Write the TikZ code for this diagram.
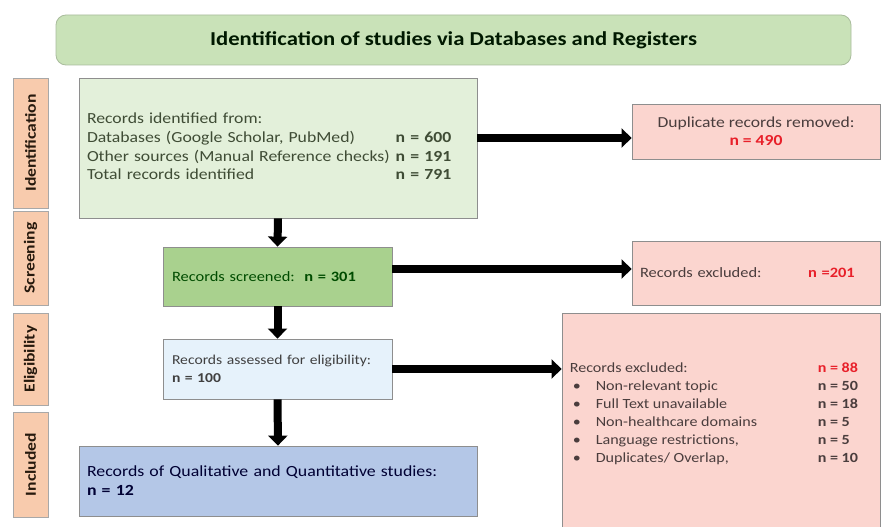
\documentclass[tikz,border=0pt]{standalone}
\usepackage{fontspec}
\setmainfont{Carlito}[FakeStretch=1.15]
\usepackage{xcolor}
\usetikzlibrary{positioning,arrows.meta}

\definecolor{titlefill}{HTML}{C9E2B8}
\definecolor{titleline}{HTML}{A9BC9C}
\definecolor{phasefill}{HTML}{F8CBAD}
\definecolor{phaseline}{HTML}{A8A8A8}
\definecolor{idfill}{HTML}{E3F0DA}
\definecolor{screenfill}{HTML}{A9D18E}
\definecolor{eligfill}{HTML}{E6F2FB}
\definecolor{inclfill}{HTML}{B4C7E7}
\definecolor{exclfill}{HTML}{FBD5CF}
\definecolor{boxline}{HTML}{8E8E8E}
\definecolor{nred}{HTML}{E8202A}
\definecolor{idtext}{HTML}{3F4C35}
\definecolor{excltext}{HTML}{4A3D3D}

\begin{document}
\begin{tikzpicture}[x=1pt, y=-1pt,
    phase/.style={draw=phaseline, fill=phasefill, line width=0.8pt, rotate=90,
        minimum height=35pt, inner sep=0pt, text=black!80!brown,
        font=\bfseries\fontsize{15.3}{18}\selectfont},
    stage/.style={draw=boxline, line width=0.8pt, inner ysep=0pt, align=left},
    outbox/.style={stage, fill=exclfill, text=excltext},
    flowarrow/.style={line width=8pt, -{Triangle[width=19pt,length=10pt]}}]
    \useasboundingbox (0,0) rectangle (881,527);
    \fill[white] (0,0) rectangle (881,527);

    % Title
    \node[draw=titleline, fill=titlefill, line width=0.8pt, rounded corners=10pt,
        minimum width=795pt, minimum height=50pt, text=black!90!green,
        font=\bfseries\fontsize{19.7}{22}\selectfont] (title) at (453.5,40)
        {Identification of studies via Databases and Registers};

    % Phases on the left
    \node[phase, minimum width=130pt] (idphase) at (30.5,143) {Identification};
    \node[phase, minimum width=94pt] (scphase) at (30.5,258) {Screening};
    \node[phase, minimum width=92pt] (elphase) at (30.5,359) {Eligibility};
    \node[phase, minimum width=105pt] (inphase) at (30.5,464.5) {Included};

    % Main flow
    \node[stage, fill=idfill, minimum width=398pt, minimum height=140pt,
        inner xsep=8pt, text width=382pt, text=idtext,
        font=\fontsize{15.4}{18.7}\selectfont] (idbox) at (278,148)
        {\begin{tabular}{@{}l@{\hspace{6pt}}l@{}}
        Records identified from: & \\
        Databases (Google Scholar, PubMed) & \textbf{n = 600}\\
        Other sources (Manual Reference checks) & \textbf{n = 191}\\
        Total records identified & \textbf{n = 791}
        \end{tabular}};
    \node[stage, fill=screenfill, minimum width=229pt, minimum height=59pt,
        inner xsep=9pt, text width=211pt, text=black!70!green,
        font=\fontsize{14.3}{18}\selectfont] (screenbox) at (277.5,276.5)
        {Records screened:\ \ \textbf{n = 301}};
    \node[stage, fill=eligfill, minimum width=229pt, minimum height=60pt,
        inner xsep=9pt, text width=211pt, text=black!75,
        font=\fontsize{13.6}{18}\selectfont] (eligbox) at (277.5,369)
        {Records assessed for eligibility:\\\textbf{n = 100}};
    \node[stage, fill=inclfill, minimum width=398pt, minimum height=70pt,
        inner xsep=8pt, text width=382pt, text=black!80!blue,
        font=\fontsize{15.5}{19}\selectfont] (inclbox) at (278,481)
        {Records of Qualitative and Quantitative studies:\\\textbf{n = 12}};

    % Removed and excluded records
    \node[outbox, minimum width=248pt, minimum height=55pt, align=center,
        font=\fontsize{15.3}{18}\selectfont] (dupbox) at (756,131.5)
        {Duplicate records removed:\\\textcolor{nred}{\textbf{n = 490}}};
    \node[outbox, minimum width=248pt, minimum height=64pt, inner xsep=8pt,
        text width=232pt, font=\fontsize{14.3}{18}\selectfont] (scexcl) at (756,273)
        {\makebox[168pt][l]{Records excluded:}\textcolor{nred}{\textbf{n =201}}};
    \node[outbox, minimum width=318pt, minimum height=222pt,
        label={[anchor=north west, inner sep=0pt, xshift=8pt, yshift=-47pt,
            text=excltext, align=left, font=\fontsize{14}{18}\selectfont]north west:
        {\begin{tabular}{@{}p{26pt}@{}p{222pt}@{}l@{}}
        \multicolumn{2}{@{}l}{Records excluded:} & \textcolor{nred}{\textbf{n = 88}}\\
        \hspace{3pt}\textbullet & Non-relevant topic & \textbf{n = 50}\\
        \hspace{3pt}\textbullet & Full Text unavailable & \textbf{n = 18}\\
        \hspace{3pt}\textbullet & Non-healthcare domains & \textbf{n = 5}\\
        \hspace{3pt}\textbullet & Language restrictions, & \textbf{n = 5}\\
        \hspace{3pt}\textbullet & Duplicates/ Overlap, & \textbf{n = 10}
        \end{tabular}}}] (elexcl) at (721,424) {};

    % Arrows
    \draw[flowarrow] (idbox.south) -- (screenbox.north);
    \draw[flowarrow] (screenbox.south) -- (eligbox.north);
    \draw[flowarrow] (eligbox.south) -- (inclbox.north);
    \draw[flowarrow] ([yshift=10pt]idbox.east) -- ([yshift=-6.5pt]dupbox.west);
    \draw[flowarrow] ([yshift=7.5pt]screenbox.east) -- ([yshift=4pt]scexcl.west);
    \draw[flowarrow] (eligbox.east) -- (eligbox.east -| elexcl.west);
\end{tikzpicture}
\end{document}
